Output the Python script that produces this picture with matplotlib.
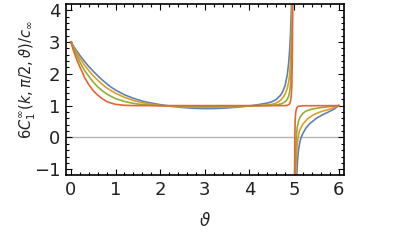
import matplotlib.pyplot as plt
from matplotlib.ticker import MultipleLocator

# left branch (before the pole near theta = 5)
th_blue_l = [0, 0.1, 0.2, 0.3, 0.4, 0.5, 0.6, 0.7, 0.8, 0.9, 1.0, 1.2, 1.4, 1.6, 1.8, 2.0,
             2.25, 2.5, 2.75, 3.0, 3.25, 3.5, 3.75, 4.0, 4.2, 4.4, 4.5, 4.6, 4.7, 4.75,
             4.8, 4.85, 4.88, 4.9, 4.92, 4.94, 4.96]
c_blue_l = [3.0, 2.78, 2.58, 2.40, 2.23, 2.08, 1.94, 1.81, 1.69, 1.58, 1.49, 1.34, 1.23, 1.14,
            1.08, 1.03, 0.98, 0.94, 0.915, 0.905, 0.91, 0.925, 0.955, 0.99, 1.03, 1.08, 1.12,
            1.19, 1.33, 1.45, 1.63, 1.98, 2.35, 2.7, 3.2, 4.0, 6.0]

th_orange_l = [0, 0.1, 0.2, 0.3, 0.4, 0.5, 0.6, 0.7, 0.8, 0.9, 1.0, 1.2, 1.4, 1.6, 1.8, 2.0,
               2.25, 2.5, 3.0, 3.5, 4.0, 4.2, 4.4, 4.5, 4.6, 4.7, 4.75, 4.8, 4.85, 4.88,
               4.9, 4.92, 4.94, 4.955, 4.97]
c_orange_l = [3.0, 2.73, 2.49, 2.28, 2.10, 1.94, 1.80, 1.67, 1.56, 1.47, 1.39, 1.26, 1.16,
              1.09, 1.04, 1.00, 0.975, 0.96, 0.945, 0.955, 0.985, 1.0, 1.02, 1.04, 1.08, 1.17,
              1.25, 1.36, 1.55, 1.75, 1.95, 2.35, 3.1, 4.3, 7.0]

th_green_l = [0, 0.1, 0.2, 0.3, 0.4, 0.5, 0.6, 0.7, 0.8, 0.9, 1.0, 1.2, 1.4, 1.6, 1.8, 2.0,
              2.5, 3.0, 3.5, 4.0, 4.4, 4.6, 4.7, 4.75, 4.8, 4.85, 4.88, 4.9, 4.92, 4.94,
              4.95, 4.96, 4.97, 4.98]
c_green_l = [3.0, 2.67, 2.37, 2.12, 1.92, 1.74, 1.59, 1.47, 1.37, 1.29, 1.22, 1.13, 1.07,
             1.03, 1.01, 0.995, 0.98, 0.97, 0.975, 0.99, 1.0, 1.02, 1.05, 1.08, 1.12, 1.2,
             1.3, 1.42, 1.65, 2.2, 2.8, 3.8, 5.5, 8.0]

th_red_l = [0, 0.05, 0.1, 0.15, 0.2, 0.25, 0.3, 0.4, 0.5, 0.6, 0.7, 0.8, 0.9, 1.0, 1.2, 1.4,
            2.0, 3.0, 4.0, 4.8, 4.85, 4.88, 4.9, 4.92, 4.94, 4.95, 4.96, 4.97, 4.98]
c_red_l = [3.0, 2.76, 2.56, 2.38, 2.22, 2.07, 1.90, 1.66, 1.47, 1.33, 1.22, 1.13, 1.08, 1.04,
           1.01, 1.0, 1.0, 1.0, 1.0, 1.0, 1.01, 1.03, 1.06, 1.13, 1.33, 1.6, 2.3, 3.8, 8.0]

# right branch (after the pole)
th_blue_r = [5.02, 5.04, 5.06, 5.08, 5.1, 5.13, 5.16, 5.2, 5.27, 5.35, 5.5, 5.65, 5.8, 5.9, 6.0]
c_blue_r = [-5.0, -2.0, -1.2, -0.7, -0.4, -0.15, 0.0, 0.13, 0.3, 0.43, 0.6, 0.72, 0.82, 0.89, 1.0]

th_orange_r = [5.01, 5.03, 5.05, 5.07, 5.09, 5.12, 5.16, 5.2, 5.3, 5.42, 5.6, 5.8, 6.0]
c_orange_r = [-5.0, -1.6, -0.7, -0.25, 0.0, 0.2, 0.32, 0.42, 0.58, 0.7, 0.81, 0.89, 1.0]

th_green_r = [5.01, 5.025, 5.04, 5.05, 5.07, 5.1, 5.13, 5.2, 5.27, 5.4, 5.57, 5.8, 6.0]
c_green_r = [-4.0, -1.5, -0.4, 0.0, 0.3, 0.5, 0.63, 0.76, 0.83, 0.89, 0.93, 0.97, 1.0]

th_red_r = [5.005, 5.012, 5.018, 5.025, 5.035, 5.05, 5.07, 5.1, 5.2, 6.0]
c_red_r = [-5.0, -1.5, 0.0, 0.5, 0.75, 0.88, 0.95, 0.98, 0.995, 1.0]

colors = ['#5e81b5', '#e19c24', '#8fb032', '#eb6235']
branches = [
    (th_blue_l, c_blue_l, th_blue_r, c_blue_r),
    (th_orange_l, c_orange_l, th_orange_r, c_orange_r),
    (th_green_l, c_green_l, th_green_r, c_green_r),
    (th_red_l, c_red_l, th_red_r, c_red_r),
]

fig = plt.figure(figsize=(4, 2.42), dpi=100)
ax = fig.add_axes([0.165, 0.277, 0.695, 0.706])

ax.axhline(0, color='#b3b3b3', lw=1.0, zorder=1)
for (tl, cl, tr, cr), col in zip(branches, colors):
    ax.plot(tl, cl, color=col, lw=1.2, zorder=2)
    ax.plot(tr, cr, color=col, lw=1.2, zorder=2)

ax.set_xlim(-0.11, 6.12)
ax.set_ylim(-1.18, 4.19)
ax.xaxis.set_major_locator(MultipleLocator(1))
ax.xaxis.set_minor_locator(MultipleLocator(0.2))
ax.yaxis.set_major_locator(MultipleLocator(1))
ax.yaxis.set_minor_locator(MultipleLocator(0.2))
ax.tick_params(which='both', direction='in', top=True, right=True, colors='black',
               labelcolor='#222222', labelsize=13, width=0.8)
ax.tick_params(which='major', length=4.5, pad=4)
ax.tick_params(which='minor', length=2.5)
for s in ax.spines.values():
    s.set_linewidth(1.2)

ax.set_ylabel(r'$6C_1^{\infty}(k,\pi/2,\vartheta)/c_{\infty}$', fontsize=10.5, color='#222222')
ax.yaxis.set_label_coords(-0.1, 0.555)
ax.set_xlabel(r'$\vartheta$', fontsize=12, color='#222222', labelpad=10)

fig.savefig('out.png', dpi=100)
